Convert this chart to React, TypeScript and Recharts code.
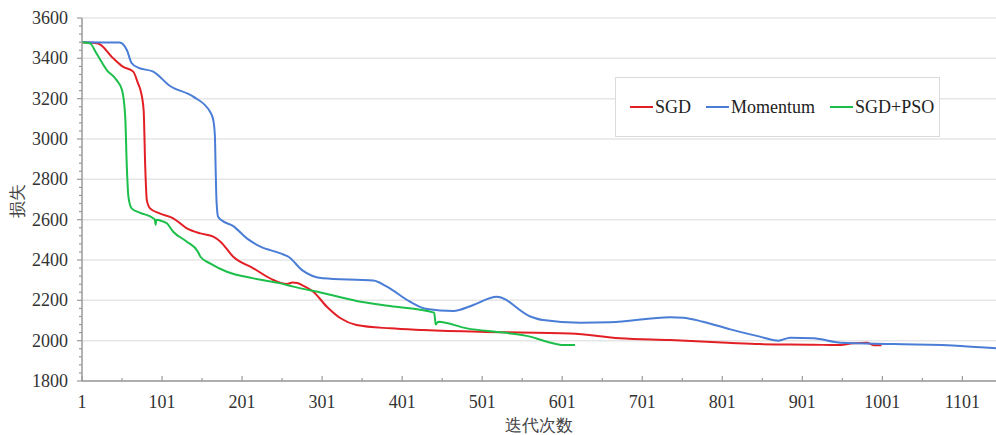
import { LineChart, Line, XAxis, YAxis, CartesianGrid, Legend } from 'recharts';

// 迭代次数 / 损失 for each optimiser
const sgdIter = [1, 21, 40, 52, 65, 71, 74, 78, 80, 82, 86, 98, 115, 132, 149, 165, 174, 190, 215, 240, 257, 264, 270, 276, 290, 307, 324, 344, 386, 428, 498, 611, 673, 736, 807, 848, 915, 944, 965, 982, 990, 1000];
const sgdLoss = [3480, 3474, 3400, 3359, 3334, 3276, 3243, 3144, 2863, 2697, 2656, 2631, 2607, 2557, 2532, 2516, 2491, 2416, 2359, 2301, 2281, 2288, 2286, 2275, 2243, 2168, 2111, 2078, 2061, 2053, 2044, 2036, 2012, 2003, 1990, 1983, 1980, 1978, 1987, 1990, 1977, 1977];

const momIter = [1, 48, 57, 63, 71, 90, 111, 140, 161, 165, 167, 168, 169, 171, 175, 190, 207, 224, 249, 259, 276, 302, 365, 382, 411, 432, 465, 490, 519, 561, 577, 623, 661, 736, 752, 777, 811, 848, 871, 886, 915, 949, 1015, 1099, 1143];
const momLoss = [3480, 3478, 3441, 3377, 3354, 3334, 3263, 3210, 3135, 3094, 3020, 2850, 2700, 2615, 2598, 2568, 2507, 2466, 2433, 2416, 2350, 2309, 2298, 2268, 2193, 2157, 2147, 2177, 2218, 2120, 2102, 2089, 2091, 2116, 2114, 2094, 2056, 2020, 2000, 2015, 2012, 1990, 1983, 1974, 1962];

const psoIter = [1, 11, 19, 32, 44, 51, 55, 57, 59, 63, 73, 90, 92, 93, 94, 101, 107, 115, 132, 146, 149, 161, 182, 215, 249, 265, 303, 344, 386, 441, 443, 446, 482, 528, 561, 582, 603, 617];
const psoLoss = [3480, 3474, 3425, 3342, 3293, 3243, 3110, 2863, 2714, 2656, 2635, 2607, 2600, 2575, 2600, 2593, 2582, 2540, 2491, 2440, 2416, 2383, 2342, 2309, 2284, 2268, 2235, 2197, 2172, 2139, 2080, 2094, 2061, 2040, 2020, 1995, 1978, 1978];

const seriesNames = ['SGD', 'Momentum', 'SGD+PSO'];
const seriesColors = ['#e31f26', '#4a7dd6', '#1dbf4b'];

const xTicks = [1, 51, 101, 151, 201, 251, 301, 351, 401, 451, 501, 551, 601, 651, 701, 751, 801, 851, 901, 951, 1001, 1051, 1101];
const yMajorTicks = [1800, 2000, 2200, 2400, 2600, 2800, 3000, 3200, 3400, 3600];
const yTicks: number[] = [];
for (let v = 1800; v <= 3600; v += 40) yTicks.push(v);

const FONT = "'Liberation Serif', 'Times New Roman', Tinos, 'DejaVu Serif', serif";
const AXIS = '#9a9a9a';

const toPoints = (iters: number[], vals: number[]) => iters.map((it, i) => ({ iter: it, loss: vals[i] }));
const allData = [toPoints(sgdIter, sgdLoss), toPoints(momIter, momLoss), toPoints(psoIter, psoLoss)];

function XTick({ x, y, payload }: any) {
  const major = (payload.value - 1) % 100 === 0;
  return (
    <g>
      <line x1={x} x2={x} y1={y} y2={y - (major ? 5 : 3)} stroke={AXIS} strokeWidth={1.2} />
      {major && (
        <text x={x} y={y + 27} textAnchor="middle" style={{ fontFamily: FONT }} fontSize={18} fill="#333">
          {payload.value}
        </text>
      )}
    </g>
  );
}

function YTick({ x, y, payload }: any) {
  const major = yMajorTicks.includes(payload.value);
  return (
    <g>
      <line x1={x - (major ? 5 : 3)} x2={x} y1={y} y2={y} stroke={AXIS} strokeWidth={1.2} />
      {major && (
        <text x={x - 14} y={y + 6} textAnchor="end" style={{ fontFamily: FONT }} fontSize={18} fill="#333">
          {payload.value}
        </text>
      )}
    </g>
  );
}

const XTitle = () => (
  <text x={539} y={431} textAnchor="middle" style={{ fontFamily: FONT }} fontSize={17} fill="#444">
    迭代次数
  </text>
);

const YTitle = () => (
  <text x={17} y={201} transform="rotate(-90 17 201)" textAnchor="middle" dominantBaseline="central" style={{ fontFamily: FONT }} fontSize={17} fill="#444">
    损失
  </text>
);

const LegendBox = () => (
  <div
    style={{
      width: 325,
      height: 60,
      boxSizing: 'border-box',
      border: '1.5px solid #dadada',
      background: '#fff',
      display: 'flex',
      alignItems: 'center',
      paddingLeft: 14,
      fontFamily: FONT,
      fontSize: 18,
      color: '#222',
      whiteSpace: 'nowrap',
    }}
  >
    {seriesNames.map((name, i) => (
      <span key={name} style={{ display: 'flex', alignItems: 'center', marginRight: 15 }}>
        <span style={{ display: 'inline-block', width: 23, height: 2, background: seriesColors[i], marginRight: 2 }} />
        {name}
      </span>
    ))}
  </div>
);

export default function App() {
  return (
    <div style={{ position: 'absolute', left: 0, top: 0, width: 996, height: 435, background: '#fff' }}>
      <LineChart width={996} height={435} margin={{ top: 18, right: 0, bottom: 0, left: 0 }}>
        <CartesianGrid vertical={false} horizontalValues={yMajorTicks} stroke="#e6e6e6" strokeWidth={1.5} />
        <XAxis
          dataKey="iter"
          type="number"
          domain={[1, 1143]}
          allowDataOverflow
          ticks={xTicks}
          interval={0}
          height={54}
          tickSize={0}
          tickMargin={0}
          tickLine={false}
          tick={<XTick />}
          axisLine={{ stroke: AXIS, strokeWidth: 1.5 }}
          label={<XTitle />}
        />
        <YAxis
          type="number"
          domain={[1800, 3600]}
          ticks={yTicks}
          interval={0}
          width={82}
          tickSize={0}
          tickMargin={0}
          tickLine={false}
          tick={<YTick />}
          axisLine={{ stroke: AXIS, strokeWidth: 1.5 }}
          label={<YTitle />}
        />
        <Legend
          layout="horizontal"
          verticalAlign="middle"
          align="center"
          wrapperStyle={{ left: 615, top: 77, width: 'auto' }}
          content={<LegendBox />}
        />
        {allData.map((pts, i) => (
          <Line
            key={seriesNames[i]}
            data={pts}
            dataKey="loss"
            name={seriesNames[i]}
            type="monotone"
            stroke={seriesColors[i]}
            strokeWidth={2}
            dot={false}
            activeDot={false}
            isAnimationActive={false}
          />
        ))}
      </LineChart>
    </div>
  );
}
